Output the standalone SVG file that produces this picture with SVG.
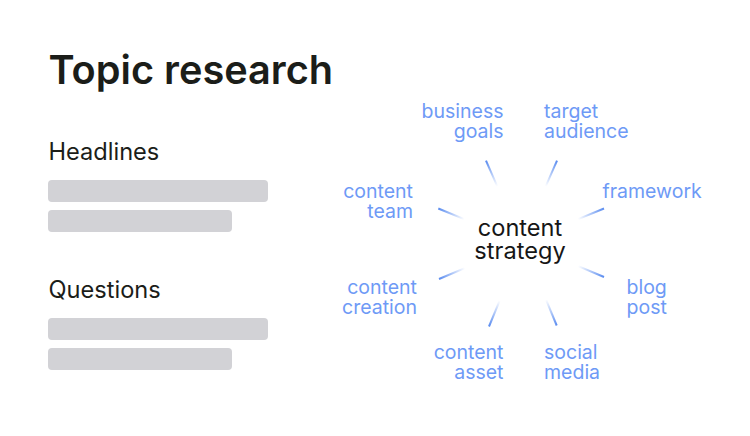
<svg xmlns="http://www.w3.org/2000/svg" width="750" height="436" viewBox="0 0 750 436">
<style>
.title{font-family:Inter,"Noto Sans",sans-serif;font-size:39.7px;font-weight:600;fill:#1b1d19}
.h{font-family:Inter,"Noto Sans",sans-serif;font-size:23.6px;fill:#1b1d19}
.bar{fill:#d2d2d6}
.center{font-family:Inter,"Noto Sans",sans-serif;font-size:23.6px;fill:#161616;text-anchor:middle}
.lbl{font-family:Inter,"Noto Sans",sans-serif;font-size:19.5px;fill:#6e9af6}
.r{text-anchor:end}
.conn line{stroke:url(#fade);stroke-width:2;stroke-linecap:butt}
</style>
<defs>
<linearGradient id="fade" gradientUnits="userSpaceOnUse" x1="0" y1="0" x2="28" y2="0">
<stop offset="0" stop-color="#5a8cf0" stop-opacity="1"/>
<stop offset="1" stop-color="#5a8cf0" stop-opacity="0"/>
</linearGradient>
</defs>
<rect width="750" height="436" fill="#ffffff"/>
<g id="left-panel">
<text class="title" x="48.5" y="84">Topic research</text>
<text class="h" x="48.5" y="159.5">Headlines</text>
<rect class="bar" x="48" y="180" width="220" height="22" rx="4"/>
<rect class="bar" x="48" y="210" width="184" height="22" rx="4"/>
<text class="h" x="48.5" y="297.5">Questions</text>
<rect class="bar" x="48" y="318" width="220" height="22" rx="4"/>
<rect class="bar" x="48" y="348" width="184" height="22" rx="4"/>
</g>
<g id="connectors" class="conn">
<line x1="0" y1="0" x2="28" y2="0" transform="translate(486 160.7) rotate(66.2)"/>
<line x1="0" y1="0" x2="28" y2="0" transform="translate(557 160.7) rotate(113.8)"/>
<line x1="0" y1="0" x2="28" y2="0" transform="translate(438.3 208.5) rotate(22.4)"/>
<line x1="0" y1="0" x2="28" y2="0" transform="translate(604 208.5) rotate(157.6)"/>
<line x1="0" y1="0" x2="28" y2="0" transform="translate(439 279) rotate(-23)"/>
<line x1="0" y1="0" x2="28" y2="0" transform="translate(604 277) rotate(-157)"/>
<line x1="0" y1="0" x2="28" y2="0" transform="translate(489 326.5) rotate(-67.6)"/>
<line x1="0" y1="0" x2="28" y2="0" transform="translate(556.7 325.5) rotate(-112.4)"/>
</g>
<g id="node-center"><text class="center" x="520" y="235.7">content</text><text class="center" x="520" y="259">strategy</text></g>
<g id="node-business-goals"><text class="lbl r" x="503.5" y="118">business</text><text class="lbl r" x="503.5" y="138.3">goals</text></g>
<g id="node-target-audience"><text class="lbl" x="544" y="118">target</text><text class="lbl" x="544" y="138.3">audience</text></g>
<g id="node-content-team"><text class="lbl r" x="413" y="198.3">content</text><text class="lbl r" x="413" y="218.3">team</text></g>
<g id="node-framework"><text class="lbl" x="602.5" y="198.3">framework</text></g>
<g id="node-content-creation"><text class="lbl r" x="417" y="294.3">content</text><text class="lbl r" x="417" y="314">creation</text></g>
<g id="node-blog-post"><text class="lbl" x="626.5" y="294.3">blog</text><text class="lbl" x="626.5" y="314">post</text></g>
<g id="node-content-asset"><text class="lbl r" x="503.5" y="359.3">content</text><text class="lbl r" x="503.5" y="379.3">asset</text></g>
<g id="node-social-media"><text class="lbl" x="544" y="359.3">social</text><text class="lbl" x="544" y="379.3">media</text></g>
</svg>
